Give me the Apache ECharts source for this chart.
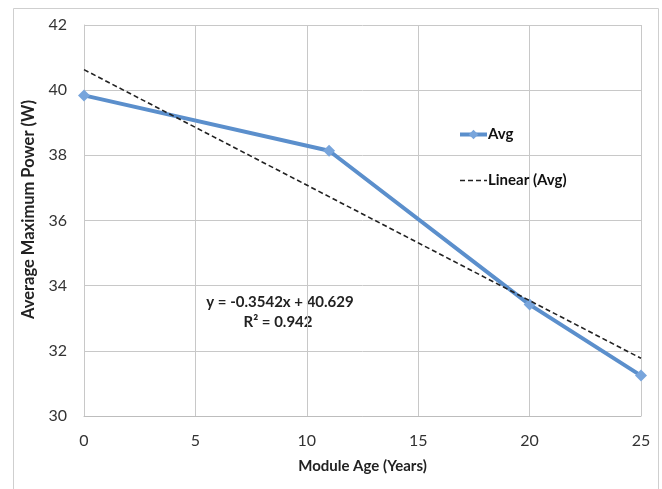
<!DOCTYPE html>
<html>
<head>
<meta charset="utf-8">
<script src="https://cdn.jsdelivr.net/npm/echarts@6/dist/echarts.min.js"></script>
<style>
  html, body { margin: 0; padding: 0; background: #fff; }
  #chart { width: 662px; height: 489px; }
</style>
</head>
<body>
<div id="chart"></div>
<script>
// module age (years) and average max power (W)
const ages = [0, 11, 20, 25];
const avgPower = [39.84, 38.14, 33.42, 31.24];
// linear trendline end points as drawn
const trendAges = [0, 25];
const trendPower = [40.63, 31.77];
const equationText = 'y = -0.3542x + 40.629';
const r2Text = 'R² = 0.942';

const font = 'Lato, "Open Sans", sans-serif';
const chart = echarts.init(document.getElementById('chart'));

chart.setOption({
  animation: false,
  textStyle: { fontFamily: font },
  grid: { left: 84, top: 25, right: 21, bottom: 73 },
  xAxis: {
    type: 'value',
    min: 0, max: 25, interval: 5,
    name: 'Module Age (Years)',
    nameLocation: 'middle',
    nameGap: 43,
    nameTextStyle: { fontSize: 15, fontWeight: 'bold', color: '#222', fontFamily: font },
    axisLine: { lineStyle: { color: '#bdbdbd' } },
    axisTick: { show: false },
    axisLabel: { fontSize: 16, color: '#333', margin: 17 },
    splitLine: { lineStyle: { color: '#c8c8c8' } }
  },
  yAxis: {
    type: 'value',
    min: 30, max: 42, interval: 2,
    name: 'Average Maximum Power (W)',
    nameLocation: 'middle',
    nameGap: 42,
    nameTextStyle: {
      fontSize: 16.5, fontWeight: 'bold', color: '#222', fontFamily: font,
      padding: [0, 0, 0, 22]
    },
    axisLine: { show: true, lineStyle: { color: '#c8c8c8' } },
    axisTick: { show: false },
    axisLabel: { fontSize: 16, color: '#333', margin: 17 },
    splitLine: { lineStyle: { color: '#c8c8c8' } }
  },
  legend: {
    left: 453, top: 122,
    orient: 'vertical',
    itemGap: 31,
    itemWidth: 27,
    itemHeight: 12,
    textStyle: { fontSize: 15, fontWeight: 'bold', color: '#111', fontFamily: font, padding: [0, 0, 0, -4] },
    data: [
      { name: 'Avg', lineStyle: { width: 4 } },
      { name: 'Linear (Avg)', itemStyle: { opacity: 0 }, lineStyle: { width: 1.5 } }
    ]
  },
  series: [
    {
      name: 'Avg',
      type: 'line',
      data: ages.map((a, i) => [a, avgPower[i]]),
      symbol: 'diamond',
      symbolSize: 12,
      lineStyle: { color: '#5b8fcc', width: 4 },
      itemStyle: { color: '#78a5dc' },
      z: 2
    },
    {
      name: 'Linear (Avg)',
      type: 'line',
      data: trendAges.map((a, i) => [a, trendPower[i]]),
      symbol: 'none',
      lineStyle: { color: '#222', width: 1.6, type: [5, 3] },
      itemStyle: { color: '#222' },
      z: 3
    }
  ],
  graphic: [
    {
      type: 'rect',
      shape: { x: 13.5, y: 8.5, width: 645, height: 500 },
      style: { fill: 'none', stroke: '#cfcfcf', lineWidth: 1 },
      silent: true
    },
    {
      type: 'text',
      x: 280, y: 302,
      style: {
        text: equationText, align: 'center', verticalAlign: 'middle',
        font: 'bold 15px ' + font, fill: '#222'
      }
    },
    {
      type: 'text',
      x: 278, y: 322,
      style: {
        text: r2Text, align: 'center', verticalAlign: 'middle',
        font: 'bold 15px ' + font, fill: '#222'
      }
    }
  ]
});
</script>
</body>
</html>
